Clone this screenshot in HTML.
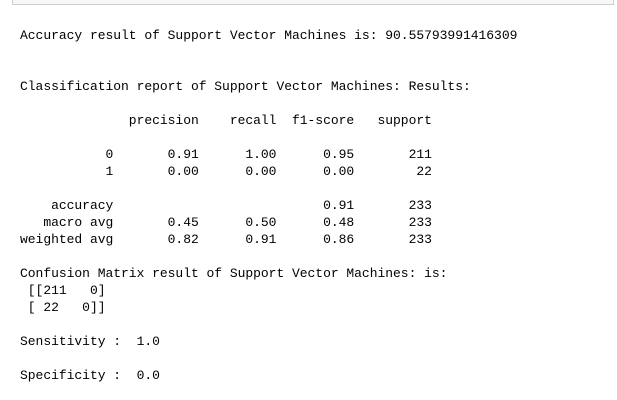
<!DOCTYPE html>
<html><head><meta charset="utf-8"><style>
html,body{margin:0;padding:0;width:617px;height:400px;background:#fff;overflow:hidden;position:relative}
#topbox{position:absolute;left:12px;top:-6px;width:600px;height:9px;border:1px solid #cfcfcf;background:#f7f7f7}
pre{position:absolute;left:20px;top:27px;margin:0;font-family:"Liberation Mono",monospace;font-size:13px;line-height:17px;letter-spacing:-0.03px;color:#000}
</style></head><body>
<div id="topbox"></div>
<pre>Accuracy result of Support Vector Machines is: 90.55793991416309


Classification report of Support Vector Machines: Results:

              precision    recall  f1-score   support

           0       0.91      1.00      0.95       211
           1       0.00      0.00      0.00        22

    accuracy                           0.91       233
   macro avg       0.45      0.50      0.48       233
weighted avg       0.82      0.91      0.86       233

Confusion Matrix result of Support Vector Machines: is:
 [[211   0]
 [ 22   0]]

Sensitivity :  1.0

Specificity :  0.0</pre>
</body></html>
